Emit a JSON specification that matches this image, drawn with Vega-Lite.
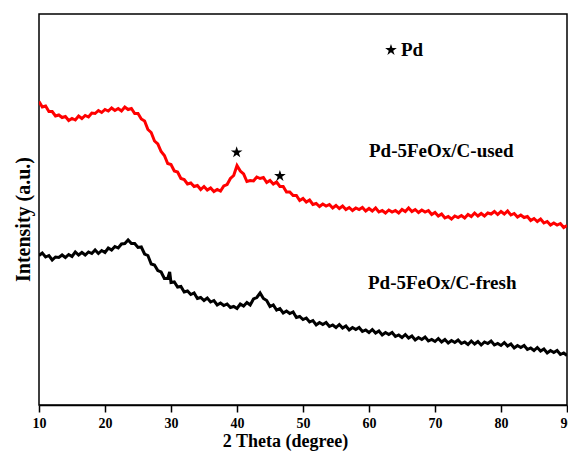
{
  "$schema": "https://vega.github.io/schema/vega-lite/v6.json",
  "width": 528,
  "height": 391,
  "autosize": {"type": "none"},
  "padding": {"left": 39, "top": 14, "right": 1, "bottom": 51},
  "background": "white",
  "config": {"view": {"stroke": "black", "strokeWidth": 1.5}, "font": "Liberation Serif"},
  "datasets": {
    "used": [
      {"t":10,"i":303.5},{"t":10.5,"i":298},{"t":11,"i":299},{"t":11.5,"i":293.5},{"t":12,"i":293.5},{"t":12.5,"i":289},{"t":13,"i":290},{"t":13.5,"i":287.5},{"t":14,"i":288.5},{"t":14.5,"i":284.5},
      {"t":15,"i":286.5},{"t":15.5,"i":285},{"t":16,"i":289},{"t":16.5,"i":286.5},{"t":17,"i":289.5},{"t":17.5,"i":288},{"t":18,"i":292},{"t":18.5,"i":291.5},{"t":19,"i":294.5},{"t":19.5,"i":292.5},
      {"t":20,"i":295.5},{"t":20.5,"i":294},{"t":21,"i":297},{"t":21.5,"i":294.5},{"t":22,"i":296.5},{"t":22.5,"i":294},{"t":23,"i":298},{"t":23.5,"i":295.5},{"t":24,"i":296.5},{"t":24.5,"i":291.5},
      {"t":25,"i":291.5},{"t":25.5,"i":286},{"t":26,"i":284},{"t":26.5,"i":275.5},{"t":27,"i":272.5},{"t":27.5,"i":264},{"t":28,"i":261},{"t":28.5,"i":253.5},{"t":29,"i":249.5},{"t":29.5,"i":241.5},
      {"t":30,"i":240.5},{"t":30.5,"i":234},{"t":31,"i":233},{"t":31.5,"i":226.5},{"t":32,"i":225.5},{"t":32.5,"i":221},{"t":33,"i":222},{"t":33.5,"i":218.5},{"t":34,"i":219.5},{"t":34.5,"i":215.5},
      {"t":35,"i":218.5},{"t":35.5,"i":215},{"t":36,"i":217},{"t":36.5,"i":213.5},{"t":37,"i":215.5},{"t":37.5,"i":214},{"t":38,"i":219},{"t":38.5,"i":220.5},{"t":39,"i":226.5},{"t":39.5,"i":229.5},
      {"t":40,"i":239.5},{"t":40.5,"i":234},{"t":41,"i":231},{"t":41.5,"i":223.5},{"t":42,"i":224.5},{"t":42.5,"i":224},{"t":43,"i":228},{"t":43.5,"i":226.5},{"t":44,"i":227.5},{"t":44.5,"i":222.5},
      {"t":45,"i":224.5},{"t":45.5,"i":221},{"t":46,"i":223},{"t":46.5,"i":218.5},{"t":47,"i":218.5},{"t":47.5,"i":213},{"t":48,"i":213},{"t":48.5,"i":209.5},{"t":49,"i":209.5},{"t":49.5,"i":204.5},
      {"t":50,"i":206.5},{"t":50.5,"i":203},{"t":51,"i":205},{"t":51.5,"i":200.5},{"t":52,"i":201.5},{"t":52.5,"i":198.5},{"t":53,"i":201},{"t":53.5,"i":199},{"t":54,"i":200.5},{"t":54.5,"i":197},
      {"t":55,"i":199.5},{"t":55.5,"i":196.5},{"t":56,"i":199},{"t":56.5,"i":195.5},{"t":57,"i":197.5},{"t":57.5,"i":194.5},{"t":58,"i":197},{"t":58.5,"i":195.5},{"t":59,"i":197.5},{"t":59.5,"i":194},
      {"t":60,"i":196.5},{"t":60.5,"i":194},{"t":61,"i":197},{"t":61.5,"i":193},{"t":62,"i":194.5},{"t":62.5,"i":192},{"t":63,"i":195},{"t":63.5,"i":193},{"t":64,"i":194.5},{"t":64.5,"i":192},
      {"t":65,"i":195.5},{"t":65.5,"i":193.5},{"t":66,"i":197},{"t":66.5,"i":193.5},{"t":67,"i":195.5},{"t":67.5,"i":192.5},{"t":68,"i":195},{"t":68.5,"i":193},{"t":69,"i":194.5},{"t":69.5,"i":190.5},
      {"t":70,"i":192.5},{"t":70.5,"i":189},{"t":71,"i":191},{"t":71.5,"i":187},{"t":72,"i":188.5},{"t":72.5,"i":186},{"t":73,"i":189},{"t":73.5,"i":187.5},{"t":74,"i":189.5},{"t":74.5,"i":187},
      {"t":75,"i":190.5},{"t":75.5,"i":188.5},{"t":76,"i":192},{"t":76.5,"i":189},{"t":77,"i":191.5},{"t":77.5,"i":189},{"t":78,"i":192},{"t":78.5,"i":191},{"t":79,"i":193.5},{"t":79.5,"i":190.5},
      {"t":80,"i":193.5},{"t":80.5,"i":191},{"t":81,"i":194},{"t":81.5,"i":190},{"t":82,"i":191.5},{"t":82.5,"i":188},{"t":83,"i":190},{"t":83.5,"i":187.5},{"t":84,"i":188.5},{"t":84.5,"i":184.5},
      {"t":85,"i":186.5},{"t":85.5,"i":183.5},{"t":86,"i":186},{"t":86.5,"i":182},{"t":87,"i":183.5},{"t":87.5,"i":180},{"t":88,"i":182},{"t":88.5,"i":180},{"t":89,"i":181.5},{"t":89.5,"i":177.5},
      {"t":90,"i":179.5}
    ],
    "fresh": [
      {"t":10,"i":149.5},{"t":10.5,"i":152},{"t":11,"i":148},{"t":11.5,"i":149.5},{"t":12,"i":145},{"t":12.5,"i":148},{"t":13,"i":147.5},{"t":13.5,"i":150},{"t":14,"i":147.5},{"t":14.5,"i":150.5},
      {"t":15,"i":148.5},{"t":15.5,"i":153},{"t":16,"i":150},{"t":16.5,"i":152.5},{"t":17,"i":150},{"t":17.5,"i":153},{"t":18,"i":151.5},{"t":18.5,"i":155},{"t":19,"i":151.5},{"t":19.5,"i":154.5},
      {"t":20,"i":152.5},{"t":20.5,"i":157},{"t":21,"i":155},{"t":21.5,"i":158.5},{"t":22,"i":157},{"t":22.5,"i":161},{"t":23,"i":161.5},{"t":23.5,"i":165},{"t":24,"i":161.5},{"t":24.5,"i":161.5},
      {"t":25,"i":157.5},{"t":25.5,"i":158},{"t":26,"i":151},{"t":26.5,"i":149.5},{"t":27,"i":141},{"t":27.5,"i":140},{"t":28,"i":134.5},{"t":28.5,"i":133},{"t":29,"i":126.5},{"t":29.5,"i":126.5},
      {"t":29.8,"i":133},
      {"t":30,"i":122.5},{"t":30.5,"i":123},{"t":31,"i":118},{"t":31.5,"i":118.5},{"t":32,"i":113},{"t":32.5,"i":114},{"t":33,"i":110.5},{"t":33.5,"i":112},{"t":34,"i":106.5},{"t":34.5,"i":107.5},
      {"t":35,"i":104.5},{"t":35.5,"i":107},{"t":36,"i":103},{"t":36.5,"i":104.5},{"t":37,"i":100},{"t":37.5,"i":102},{"t":38,"i":99.5},{"t":38.5,"i":101},{"t":39,"i":97.5},{"t":39.5,"i":98.5},
      {"t":40,"i":96.5},{"t":40.5,"i":101},{"t":41,"i":99},{"t":41.5,"i":102.5},{"t":42,"i":100},{"t":42.5,"i":106},{"t":43,"i":107.5},{"t":43.5,"i":112},{"t":44,"i":106.5},{"t":44.5,"i":104.5},
      {"t":45,"i":98.5},{"t":45.5,"i":100},{"t":46,"i":95},{"t":46.5,"i":96.5},{"t":47,"i":92},{"t":47.5,"i":94},{"t":48,"i":91.5},{"t":48.5,"i":93},{"t":49,"i":87.5},{"t":49.5,"i":88.5},
      {"t":50,"i":85.5},{"t":50.5,"i":87},{"t":51,"i":83},{"t":51.5,"i":84.5},{"t":52,"i":80},{"t":52.5,"i":82.5},{"t":53,"i":80.5},{"t":53.5,"i":82.5},{"t":54,"i":78.5},{"t":54.5,"i":80},
      {"t":55,"i":77.5},{"t":55.5,"i":80.5},{"t":56,"i":77},{"t":56.5,"i":79},{"t":57,"i":75},{"t":57.5,"i":77.5},{"t":58,"i":75.5},{"t":58.5,"i":77.5},{"t":59,"i":73.5},{"t":59.5,"i":75},
      {"t":60,"i":72.5},{"t":60.5,"i":75.5},{"t":61,"i":72},{"t":61.5,"i":74},{"t":62,"i":70},{"t":62.5,"i":72.5},{"t":63,"i":70.5},{"t":63.5,"i":72.5},{"t":64,"i":68.5},{"t":64.5,"i":70},
      {"t":65,"i":67.5},{"t":65.5,"i":70.5},{"t":66,"i":67},{"t":66.5,"i":69},{"t":67,"i":65},{"t":67.5,"i":67.5},{"t":68,"i":65.5},{"t":68.5,"i":68},{"t":69,"i":64},{"t":69.5,"i":65.5},
      {"t":70,"i":63.5},{"t":70.5,"i":66.5},{"t":71,"i":63},{"t":71.5,"i":65.5},{"t":72,"i":62},{"t":72.5,"i":64.5},{"t":73,"i":62.5},{"t":73.5,"i":65},{"t":74,"i":61.5},{"t":74.5,"i":63},
      {"t":75,"i":60.5},{"t":75.5,"i":64},{"t":76,"i":61},{"t":76.5,"i":63.5},{"t":77,"i":60},{"t":77.5,"i":63},{"t":78,"i":61.5},{"t":78.5,"i":64},{"t":79,"i":60},{"t":79.5,"i":61.5},
      {"t":80,"i":59.5},{"t":80.5,"i":62.5},{"t":81,"i":59},{"t":81.5,"i":61},{"t":82,"i":57},{"t":82.5,"i":59.5},{"t":83,"i":57.5},{"t":83.5,"i":59.5},{"t":84,"i":55.5},{"t":84.5,"i":57},
      {"t":85,"i":54.5},{"t":85.5,"i":57.5},{"t":86,"i":54},{"t":86.5,"i":56},{"t":87,"i":52},{"t":87.5,"i":54.5},{"t":88,"i":52.5},{"t":88.5,"i":54.5},{"t":89,"i":50.5},{"t":89.5,"i":52},
      {"t":90,"i":49.5}
    ],
    "stars": [
      {"t":39.95,"i":252.7},
      {"t":46.5,"i":229},
      {"t":63.33,"i":355}
    ],
    "labels": [
      {"t":64.85,"i":355,"label":"Pd"},
      {"t":60.0,"i":254,"label":"Pd-5FeOx/C-used"},
      {"t":59.85,"i":122,"label":"Pd-5FeOx/C-fresh"}
    ]
  },
  "layer": [
    {
      "data": {"name": "used"},
      "mark": {"type": "line", "color": "#ff0000", "strokeWidth": 3, "clip": true},
      "encoding": {
        "x": {
          "field": "t", "type": "quantitative",
          "scale": {"domain": [10, 90], "nice": false, "zero": false},
          "axis": {
            "values": [10,15,20,25,30,35,40,45,50,55,60,65,70,75,80,85,90],
            "labelExpr": "datum.value % 10 === 0 ? datum.label : ''",
            "tickSize": {"condition": {"test": "datum.value % 10 === 0", "value": 7}, "value": 4},
            "grid": false,
            "domainColor": "black", "domainWidth": 1.5,
            "tickColor": "black", "tickWidth": 1.5,
            "labelFont": "Liberation Serif", "labelFontWeight": "bold", "labelFontSize": 14, "labelColor": "black",
            "labelPadding": 4, "labelFlush": false, "labelOverlap": false,
            "title": "2 Theta (degree)",
            "titleFont": "Liberation Serif", "titleFontWeight": "bold", "titleFontSize": 18, "titleColor": "black",
            "titlePadding": 2,
            "titleX": 246
          }
        },
        "y": {
          "field": "i", "type": "quantitative",
          "scale": {"domain": [0, 391], "nice": false, "zero": false},
          "axis": {
            "domain": false, "ticks": false, "labels": false, "grid": false,
            "title": "Intensity (a.u.)",
            "titleFont": "Liberation Serif", "titleFontWeight": "bold", "titleFontSize": 20, "titleColor": "black",
            "titlePadding": 6,
            "titleY": 205
          }
        }
      }
    },
    {
      "data": {"name": "fresh"},
      "mark": {"type": "line", "color": "#000000", "strokeWidth": 3, "clip": true},
      "encoding": {
        "x": {"field": "t", "type": "quantitative"},
        "y": {"field": "i", "type": "quantitative"}
      }
    },
    {
      "data": {"name": "stars"},
      "mark": {
        "type": "point", "filled": true, "color": "black", "opacity": 1, "size": 150, "strokeWidth": 0,
        "shape": "M0,-1L0.225,-0.309L0.951,-0.309L0.363,0.118L0.588,0.809L0,0.382L-0.588,0.809L-0.363,0.118L-0.951,-0.309L-0.225,-0.309Z"
      },
      "encoding": {
        "x": {"field": "t", "type": "quantitative"},
        "y": {"field": "i", "type": "quantitative"}
      }
    },
    {
      "data": {"name": "labels"},
      "mark": {"type": "text", "align": "left", "baseline": "middle", "font": "Liberation Serif", "fontWeight": "bold", "fontSize": 19, "color": "black"},
      "encoding": {
        "x": {"field": "t", "type": "quantitative"},
        "y": {"field": "i", "type": "quantitative"},
        "text": {"field": "label"}
      }
    }
  ]
}
